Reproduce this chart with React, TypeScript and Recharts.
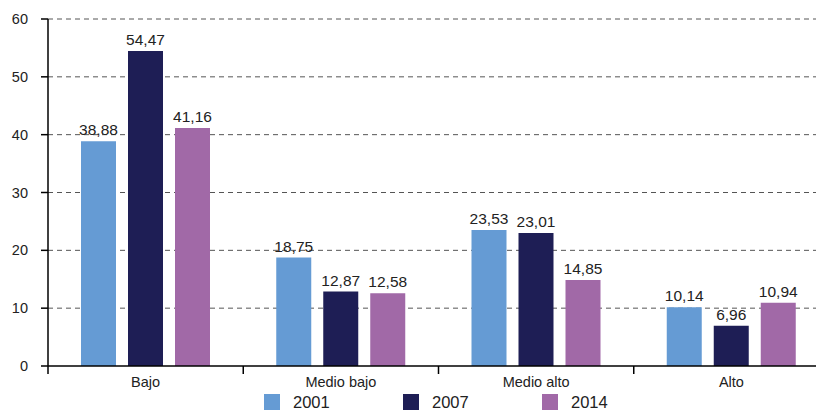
import React from "react";
import { BarChart, Bar, XAxis, YAxis, CartesianGrid, Legend, LabelList } from "recharts";

const categories = ["Bajo", "Medio bajo", "Medio alto", "Alto"];
const s2001 = [38.88, 18.75, 23.53, 10.14];
const s2007 = [54.47, 12.87, 23.01, 6.96];
const s2014 = [41.16, 12.58, 14.85, 10.94];
const yTicks = [0, 10, 20, 30, 40, 50, 60];

const seriesDefs = [
  { key: "y2001", name: "2001", color: "#659BD4" },
  { key: "y2007", name: "2007", color: "#1E1E55" },
  { key: "y2014", name: "2014", color: "#A169A7" },
];

const data = categories.map((c, i) => ({
  cat: c,
  y2001: s2001[i],
  y2007: s2007[i],
  y2014: s2014[i],
}));

const FONT = "Liberation Sans, Arial, sans-serif";

const fmt = (v: any) => Number(v).toFixed(2).replace(".", ",");

const CatTick = (props: any) => {
  const { x, y, payload, index } = props;
  const half = payload && payload.offset ? payload.offset : 97.6;
  const axisY = y - 11;
  return (
    <g>
      <line x1={x - half} x2={x - half} y1={axisY} y2={axisY + 8} stroke="#000" strokeWidth={1.5} />
      {index === categories.length - 1 ? (
        <line x1={x + half} x2={x + half} y1={axisY} y2={axisY + 8} stroke="#000" strokeWidth={1.5} />
      ) : null}
      <text x={x} y={y} dy="0.71em" textAnchor="middle" fontSize={14.5} fill="#222" fontFamily={FONT}>
        {payload.value}
      </text>
    </g>
  );
};

const LegendContent = () => (
  <div style={{ display: "flex", paddingLeft: 256, fontFamily: FONT }}>
    {seriesDefs.map((s) => (
      <div key={s.key} style={{ width: 139, display: "flex", alignItems: "center" }}>
        <span style={{ display: "inline-block", width: 16, height: 16, background: s.color, marginRight: 13 }} />
        <span style={{ fontSize: 16.5, color: "#222", lineHeight: "20px" }}>{s.name}</span>
      </div>
    ))}
  </div>
);

export default function App() {
  return (
    <div style={{ width: 816, height: 403, overflow: "hidden" }}>
      <BarChart
        width={821}
        height={412}
        data={data}
        margin={{ top: 11, right: 0, left: 0, bottom: 4 }}
        barGap={12}
        barSize={35}
      >
        <CartesianGrid
          vertical={false}
          stroke="#555"
          strokeDasharray="5 4"
          horizontalValues={[10, 20, 30, 40, 50, 60]}
        />
        <XAxis
          dataKey="cat"
          tickLine={false}
          tickSize={8}
          tickMargin={3}
          height={26}
          axisLine={{ stroke: "#000", strokeWidth: 1.5 }}
          tick={<CatTick />}
          interval={0}
        />
        <YAxis
          domain={[0, 60]}
          ticks={yTicks}
          width={40}
          tickSize={7}
          tickMargin={13}
          axisLine={{ stroke: "#000", strokeWidth: 1.5 }}
          tickLine={{ stroke: "#000", strokeWidth: 1.5 }}
          tick={{ fontSize: 14.5, fill: "#222", fontFamily: FONT }}
          interval={0}
        />
        <Legend verticalAlign="bottom" height={24} content={<LegendContent />} />
        {seriesDefs.map((s) => (
          <Bar key={s.key} dataKey={s.key} name={s.name} fill={s.color} isAnimationActive={false}>
            <LabelList
              dataKey={s.key}
              position="top"
              offset={6}
              formatter={fmt}
              style={{ fontSize: 15.5, fill: "#222", fontFamily: FONT }}
            />
          </Bar>
        ))}
      </BarChart>
    </div>
  );
}
